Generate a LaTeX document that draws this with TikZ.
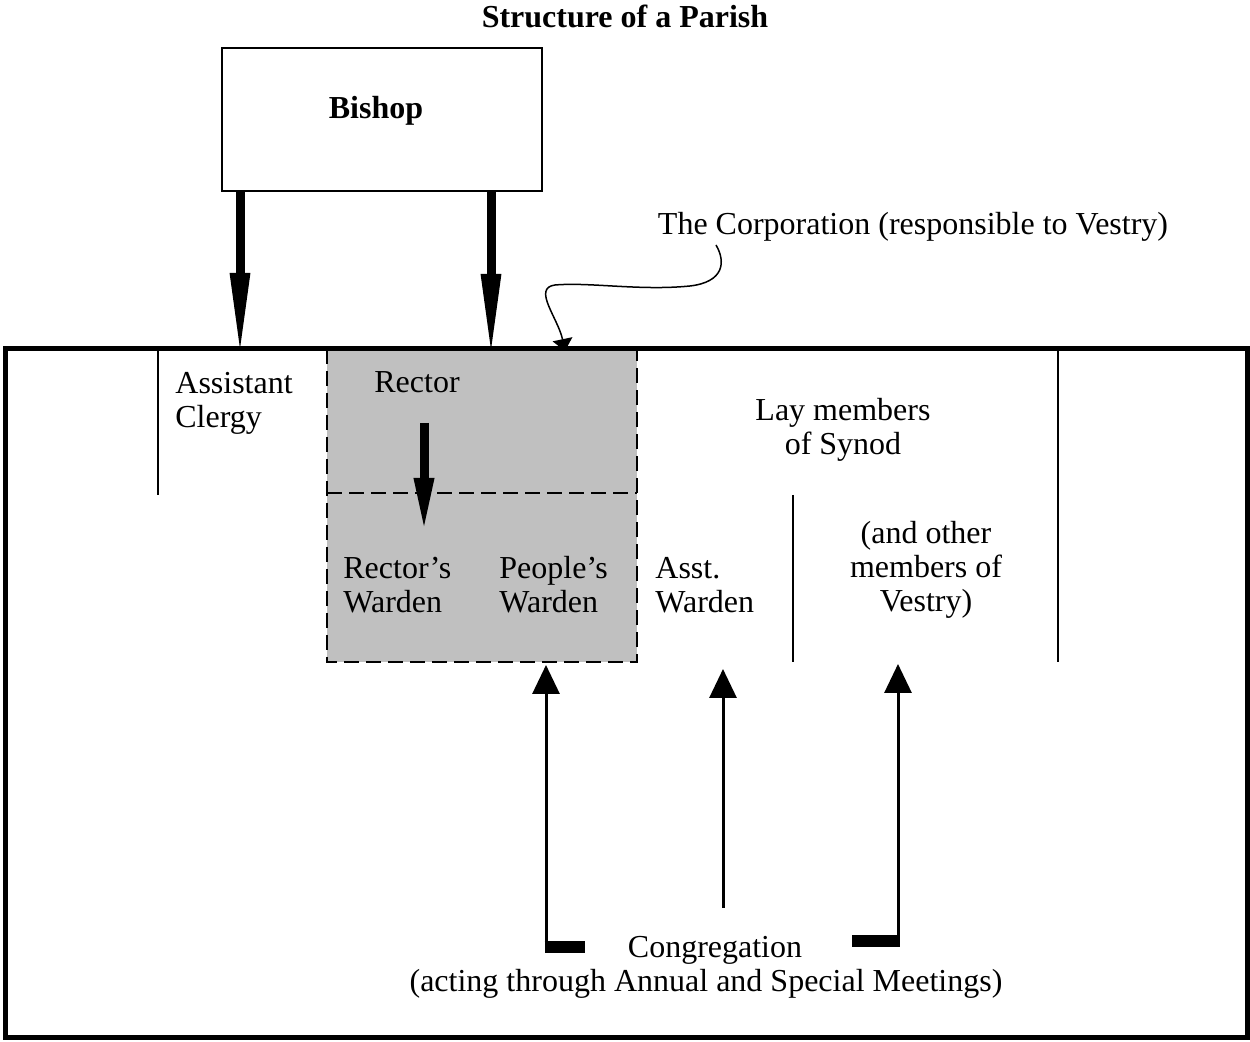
\documentclass[tikz,border=0pt]{standalone}
\usepackage{fontspec}
\setmainfont{Liberation Serif}
\usetikzlibrary{arrows.meta, positioning}
\definecolor{wardengray}{HTML}{C0C0C0}

\tikzset{
  lbl/.style={inner sep=0pt, font=\fontsize{16}{17}\selectfont},
  bigarrow/.style={line width=4.5pt, -{Triangle[length=43pt,width=9pt]}},
  midarrow/.style={line width=4.5pt, -{Triangle[length=27.5pt,width=9pt]}},
  uparrow/.style={line width=1.5pt, -{Triangle[length=14.5pt,width=13.5pt]}},
  bar/.style={line width=6pt},
  divider/.style={line width=0.7pt},
  wardenbox/.style={fill=wardengray, line width=0.75pt, dash pattern=on 7.5pt off 3.5pt}
}

\begin{document}
\begin{tikzpicture}[x=0.5pt, y=-0.5pt]
\useasboundingbox (0,0) rectangle (1250,1042);

\node[lbl] (title) at (625,16) {\bfseries Structure of a Parish};
\node[draw, line width=1pt, minimum width=160pt, minimum height=71.5pt] (bishop) at (382,119.5) {};
\node[lbl] (bishoplbl) at (376,111) {\bfseries Bishop};
\node[lbl] (corp) at (913,227) {The Corporation (responsible to Vestry)};

\filldraw[wardenbox] (327,349) rectangle (637,662);
\draw[wardenbox] (327,493) -- (637,493);
\draw[line width=2.5pt] (5,349) rectangle (1247,1038);

\draw[divider] (158,349) -- (158,495);
\draw[divider] (793,495) -- (793,662);
\draw[divider] (1058,349) -- (1058,662);

\node[lbl, anchor=west, align=left] (clergy) at (175,403) {Assistant\\Clergy};
\node[lbl] (rector) at (417,382) {Rector};
\node[lbl, anchor=west, align=left] (rwarden) at (343,585) {Rector’s\\Warden};
\node[lbl, anchor=west, align=left] (pwarden) at (499,585) {People’s\\Warden};
\node[lbl, anchor=west, align=left] (awarden) at (655,585) {Asst.\\Warden};
\node[lbl, align=center] (lay) at (843,430) {Lay members\\of Synod};
\node[lbl, align=center] (vestry) at (926,570) {(and other\\members of\\Vestry)};
\node[lbl, align=center] (cong) at (706,967) {\hspace*{9pt}Congregation\\(acting through Annual and Special Meetings)};

\coordinate (clergytop) at (240,359);
\coordinate (rectortop) at (491,360);
\draw[bigarrow] (clergytop |- bishop.south) -- (clergytop);
\draw[bigarrow] (rectortop |- bishop.south) -- (rectortop);

\coordinate (rectorfoot) at (424,423);
\coordinate (wardentop) at (424,533);
\draw[midarrow] (rectorfoot) -- (wardentop);

\coordinate (corpfoot) at (716,245);
\coordinate (corptip) at (565,351);
\draw[line width=0.75pt, -{Triangle[length=6pt,width=10pt]}] (corpfoot)
  .. controls (726,262) and (724,282) .. (690,286)
  .. controls (640,291) and (590,282) .. (555,285)
  .. controls (532,288) and (558,318) .. (corptip);

\coordinate (pwfoot) at (546,953);
\coordinate (pwtip) at (546,665);
\coordinate (awfoot) at (723,908);
\coordinate (awtip) at (723,669);
\coordinate (vfoot) at (898,947);
\coordinate (vtip) at (898,664);
\draw[bar] (544.5,947) -- (585,947);
\draw[bar] (852,941.5) -- (899.5,941.5);
\draw[uparrow] (pwfoot) -- (pwtip);
\draw[uparrow] (awfoot) -- (awtip);
\draw[uparrow] (vfoot) -- (vtip);
\end{tikzpicture}
\end{document}
